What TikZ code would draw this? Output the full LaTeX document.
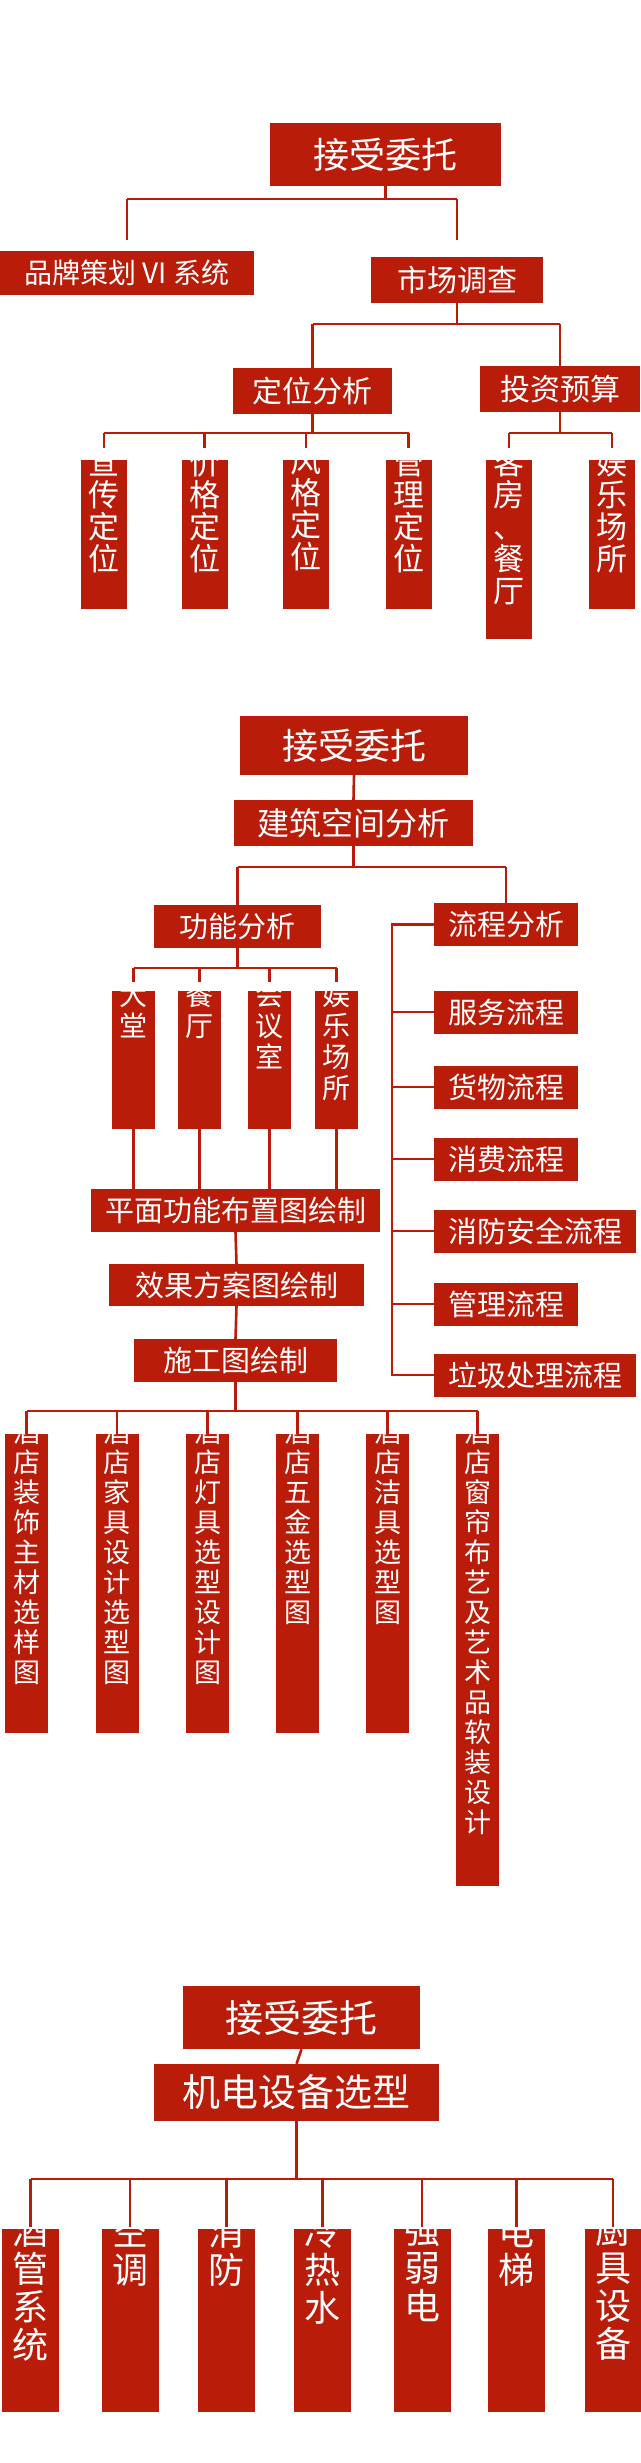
\documentclass[tikz,border=0pt]{standalone}
\usepackage{fontspec}
\setmainfont{Noto Sans CJK SC}
\usetikzlibrary{positioning}
\definecolor{hotelred}{RGB}{185,28,8}
\newcommand\fsz[1]{\fontsize{#1}{#1}\selectfont}
\newcommand\vsz[2]{\fontsize{#1}{#2}\selectfont}
\tikzset{
  redbox/.style={fill=hotelred, text=white, inner sep=0pt},
  vtext/.style={text=white, align=center, inner sep=0pt},
  link/.style={draw=hotelred, line width=2.6pt},
}

\begin{document}
\begin{tikzpicture}[x=1pt, y=-1pt]
        \useasboundingbox (0,0) rectangle (640,2463);
        % first chart: market research
        \node[redbox, minimum width=231, minimum height=63, font=\fsz{36}] (topA) at (385.5,154.5) {接受委托};
        \node[redbox, minimum width=254, minimum height=44, font=\fsz{28}] (brand) at (127,273) {品牌策划 VI 系统};
        \node[redbox, minimum width=172, minimum height=46, font=\fsz{30}] (market) at (457,280) {市场调查};
        \node[redbox, minimum width=159, minimum height=46, font=\fsz{30}] (posi) at (312.5,391) {定位分析};
        \node[redbox, minimum width=160, minimum height=46, font=\fsz{30}] (budget) at (560,389) {投资预算};
        % vertical boxes under the analysis nodes
        \foreach \n/\x/\bh/\lbl in {xuan/104/149/{宣\\传\\定\\位}, jiage/204.5/149/{价\\格\\定\\位},
                                 fengge/306/149/{风\\格\\定\\位}, guanli/408.5/149/{管\\理\\定\\位},
                                 kefang/509/179/{客\\房\\、\\餐\\厅}, yule/612/149/{娱\\乐\\场\\所}}{
            \node[redbox, anchor=north, minimum width=46, minimum height=\bh] (\n) at (\x,460) {};
            \node[vtext, font=\vsz{31}{32}, below=12 of \n.north] (\n T) {\lbl};
        }
        % forks of the first chart
        \draw[link] (topA.south) -- (topA.south |- 0,199);
        \draw[link] (brand.north |- 0,199) -- (market.north |- 0,199);
        \foreach \c in {brand, market} \draw[link] (\c.north |- 0,199) -- (\c.north |- 0,240);
        \draw[link] (market.south) -- (market.south |- 0,324);
        \draw[link] (posi.north |- 0,324) -- (budget.north |- 0,324);
        \foreach \c in {posi, budget} \draw[link] (\c.north |- 0,324) -- (\c.north);
        \draw[link] (posi.south) -- (posi.south |- 0,433);
        \draw[link] (xuan.north |- 0,433) -- (guanli.north |- 0,433);
        \foreach \c in {xuan, jiage, fengge, guanli} \draw[link] (\c.north |- 0,433) -- (\c.north |- 0,448);
        \draw[link] (budget.south) -- (budget.south |- 0,433);
        \draw[link] (kefang.north |- 0,433) -- (yule.north |- 0,433);
        \foreach \c in {kefang, yule} \draw[link] (\c.north |- 0,433) -- (\c.north |- 0,448);

        % second chart: building space analysis
        \node[redbox, minimum width=228, minimum height=59, font=\fsz{36}] (topB) at (354,745.5) {接受委托};
        \node[redbox, minimum width=239, minimum height=46, font=\fsz{32}] (space) at (353.5,823) {建筑空间分析};
        \node[redbox, minimum width=167, minimum height=43, font=\fsz{29}] (func) at (237.5,926.5) {功能分析};
        \node[redbox, minimum width=144, minimum height=43, font=\fsz{29}] (flow) at (506,924.5) {流程分析};
        \foreach \n/\x/\lbl in {lobby/133.5/{大\\堂}, dining/199.5/{餐\\厅}, meeting/269.5/{会\\议\\室}, fun/336.5/{娱\\乐\\场\\所}}{
            \node[redbox, anchor=north, minimum width=43, minimum height=138] (\n) at (\x,991) {};
            \node[vtext, font=\vsz{28}{31}, below=9 of \n.north] (\n T) {\lbl};
        }
        \node[redbox, minimum width=289, minimum height=43, font=\fsz{29}] (plan) at (235.5,1210.5) {平面功能布置图绘制};
        \node[redbox, minimum width=255, minimum height=42, font=\fsz{29}] (effect) at (236.5,1285) {效果方案图绘制};
        \node[redbox, minimum width=203, minimum height=43, font=\fsz{29}] (build) at (235.5,1360.5) {施工图绘制};
        % flow boxes, left aligned
        \foreach \n/\y/\w/\lbl in {service/1012/144/服务流程, goods/1087/144/货物流程, spend/1159/144/消费流程,
                                 fire/1231/202/消防安全流程, manage/1304/144/管理流程, waste/1375/202/垃圾处理流程}{
            \node[redbox, anchor=west, minimum width=\w, minimum height=43, font=\fsz{29}] (\n) at (434,\y) {\lbl};
        }
        % connectors of the second chart
        \draw[link] (topB.south) -- (space.north);
        \draw[link] (space.south) -- (space.south |- 0,867);
        \draw[link] (func.north |- 0,867) -- (flow.north |- 0,867);
        \foreach \c in {func, flow} \draw[link] (\c.north |- 0,867) -- (\c.north);
        \draw[link] (func.south) -- (func.south |- 0,968);
        \draw[link] (lobby.north |- 0,968) -- (fun.north |- 0,968);
        \foreach \c in {lobby, dining, meeting, fun}{
            \draw[link] (\c.north |- 0,968) -- (\c.north |- 0,982);
            \draw[link] (\c.south) -- (\c.south |- plan.north);
        }
        \draw[link] (plan.south) -- (effect.north);
        \draw[link] (effect.south) -- (build.north);
        \coordinate (spine) at (392,0);
        \draw[link] (flow.west) -- (flow.west -| spine) -- (waste.west -| spine) -- (waste.west);
        \foreach \c in {service, goods, spend, fire, manage} \draw[link] (\c.west) -- (\c.west -| spine);
        % drawing boxes under the construction node
        \foreach \n/\x/\bh/\lbl in {matl/26.5/299/{酒\\店\\装\\饰\\主\\材\\选\\样\\图}, furn/117/299/{酒\\店\\家\\具\\设\\计\\选\\型\\图},
                                 lamp/207.5/299/{酒\\店\\灯\\具\\选\\型\\设\\计\\图}, hard/297.5/299/{酒\\店\\五\\金\\选\\型\\图},
                                 sani/387.5/299/{酒\\店\\洁\\具\\选\\型\\图}, soft/477.5/452/{酒\\店\\窗\\帘\\布\\艺\\及\\艺\\术\\品\\软\\装\\设\\计}}{
            \node[redbox, anchor=north, minimum width=43, minimum height=\bh] (\n) at (\x,1434) {};
            \node[vtext, font=\vsz{27}{30}, below=14 of \n.north] (\n T) {\lbl};
        }
        \draw[link] (build.south) -- (build.south |- 0,1411);
        \draw[link] (matl.north |- 0,1411) -- (soft.north |- 0,1411);
        \foreach \c in {matl, furn, lamp, hard, sani, soft} \draw[link] (\c.north |- 0,1411) -- (\c.north);

        % third chart: equipment selection
        \node[redbox, minimum width=237, minimum height=63, font=\fsz{38}] (topC) at (301.5,2017.5) {接受委托};
        \node[redbox, minimum width=285, minimum height=57, font=\fsz{38}] (mech) at (296.5,2092.5) {机电设备选型};
        \foreach \n/\x/\lbl in {pipe/30.5/{酒\\管\\系\\统}, aircon/130/{空\\调}, firefight/226.5/{消\\防}, water/322.5/{冷\\热\\水},
                              power/422/{强\\弱\\电}, lift/516.5/{电\\梯}, kitchen/613/{厨\\具\\设\\备}}{
            \node[redbox, anchor=north, minimum width=57, minimum height=183] (\n) at (\x,2229) {};
            \node[vtext, font=\vsz{36}{38}, below=14 of \n.north] (\n T) {\lbl};
        }
        \draw[link] (topC.south) -- (mech.north);
        \draw[link] (mech.south) -- (mech.south |- 0,2179);
        \draw[link] (pipe.north |- 0,2179) -- (kitchen.north |- 0,2179);
        \foreach \c in {pipe, aircon, firefight, water, power, lift, kitchen} \draw[link] (\c.north |- 0,2179) -- (\c.north |- 0,2227);
\end{tikzpicture}
\end{document}
